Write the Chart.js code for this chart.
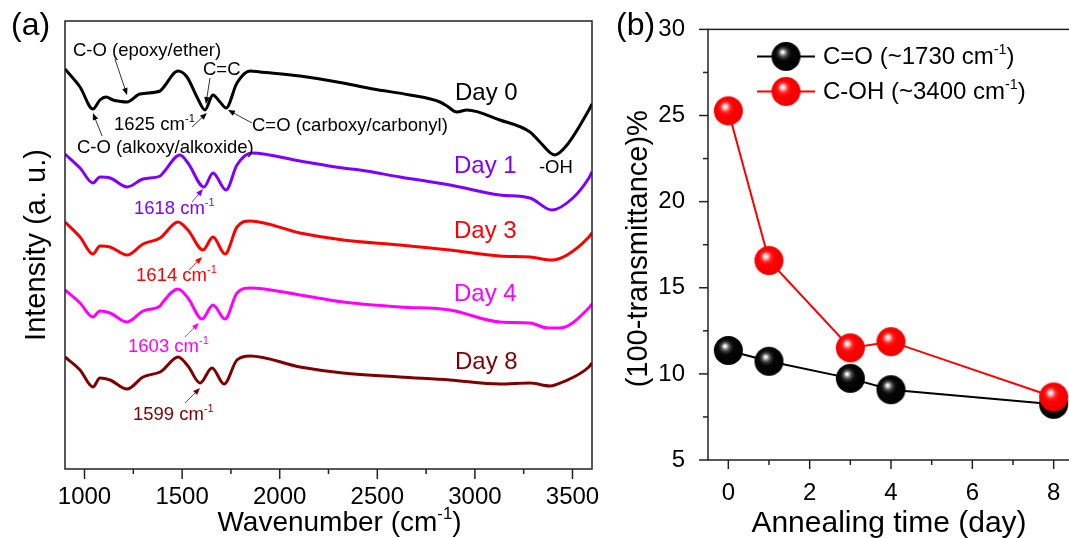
<!DOCTYPE html>
<html><head><meta charset="utf-8">
<script src="https://cdn.jsdelivr.net/npm/chart.js@4.4.1/dist/chart.umd.min.js"></script>
<style>
html,body{margin:0;padding:0;background:#fff;overflow:hidden;width:1069px;height:538px;position:relative}
#ca{position:absolute;left:0;top:0}
#cb{position:absolute;left:600px;top:0}
</style></head><body>
<canvas id="ca" width="620" height="538"></canvas>
<canvas id="cb" width="490" height="538"></canvas>
<script>
// ---------- Panel (a): FTIR spectra (wavenumber, intensity in a.u.) ----------
const wn0  = [900, 977, 1043, 1079, 1110, 1146, 1172, 1218, 1284, 1387, 1402, 1479, 1525, 1576, 1617, 1658, 1694, 1725, 1781, 1848, 1899, 2104, 2324, 2478, 2667, 2821, 2857, 2908, 2959, 3128, 3282, 3333, 3410, 3472, 3584, 3600];
const int0 = [400, 382, 360, 369, 372, 369, 368, 367, 375, 378, 381, 398, 392, 372, 359, 374, 367, 361, 386, 398, 397, 393, 386, 380, 374, 367, 363, 357, 359, 349, 337, 327, 314, 324, 359, 365];
const wn1  = [900, 977, 1043, 1079, 1131, 1218, 1300, 1387, 1402, 1489, 1530, 1612, 1658, 1725, 1781, 1858, 2104, 2324, 2411, 2616, 2872, 3128, 3282, 3395, 3502, 3584, 3600];
const int1 = [315, 301, 286, 292, 291, 282, 290, 293, 296, 314, 306, 282, 296, 279, 304, 316, 308, 301, 299, 292, 284, 274, 271, 259, 271, 291, 297];
const wn3  = [900, 977, 1043, 1079, 1131, 1218, 1300, 1387, 1479, 1530, 1607, 1658, 1720, 1781, 1848, 2104, 2324, 2616, 2872, 3128, 3282, 3395, 3472, 3584, 3600];
const int3 = [247, 232, 215, 223, 222, 214, 225, 231, 247, 239, 219, 232, 215, 242, 248, 236, 229, 224, 219, 213, 212, 209, 214, 232, 236];
const wn4  = [900, 977, 1043, 1079, 1131, 1218, 1300, 1387, 1402, 1479, 1530, 1602, 1658, 1720, 1781, 1848, 2104, 2324, 2616, 2872, 3128, 3282, 3374, 3436, 3584, 3600];
const int4 = [179, 166, 152, 158, 156, 147, 158, 163, 167, 180, 171, 150, 164, 150, 176, 181, 174, 167, 162, 159, 147, 146, 141, 141, 161, 165];
const wn8  = [900, 977, 1043, 1079, 1131, 1218, 1300, 1387, 1402, 1479, 1530, 1592, 1653, 1715, 1781, 1848, 2104, 2324, 2616, 2872, 3128, 3282, 3385, 3451, 3584, 3600];
const int8 = [112, 99, 82, 91, 89, 80, 92, 97, 99, 112, 103, 86, 101, 85, 109, 113, 102, 96, 92, 89, 85, 86, 83, 87, 102, 106];
const dayNames = ['Day 0', 'Day 1', 'Day 3', 'Day 4', 'Day 8'];
const wnTicks = [1000, 1500, 2000, 2500, 3000, 3500];
const wnMinor = [1250, 1750, 2250, 2750, 3250];

// ---------- Panel (b): (100-transmittance)% vs annealing time ----------
const days   = [0, 1, 3, 4, 8];
const coVals = [11.36, 10.73, 9.74, 9.08, 8.23];   // C=O (~1730 cm-1)
const ohVals = [25.27, 16.58, 11.51, 11.87, 8.66]; // C-OH (~3400 cm-1)
const dayTicks = [0, 2, 4, 6, 8];
const dayMinor = [1, 3, 5, 7];
const pctTicks = [5, 10, 15, 20, 25, 30];
const pctMinor = [7.5, 12.5, 17.5, 22.5, 27.5];

const FONT = '"Liberation Sans", Arial, Helvetica, sans-serif';
const COLORS = ['#000000', '#8000ff', '#ff0000', '#ff00ff', '#800000'];

function xy(w, v) { return w.map((x, i) => ({x: x, y: v[i]})); }

function richText(ctx, x, y, parts, size, color, align) {
  ctx.save();
  ctx.fillStyle = color; ctx.textAlign = 'left'; ctx.textBaseline = 'alphabetic';
  let w = 0;
  parts.forEach(p => { ctx.font = (p[1] ? size * 0.6 : size) + 'px ' + FONT; w += ctx.measureText(p[0]).width; });
  let cx = align === 'center' ? x - w / 2 : x;
  parts.forEach(p => {
    const s = p[1] ? size * 0.6 : size;
    ctx.font = s + 'px ' + FONT;
    ctx.fillText(p[0], cx, p[1] ? y - size * 0.42 : y);
    cx += ctx.measureText(p[0]).width;
  });
  ctx.restore();
}
function arrow(ctx, x1, y1, x2, y2, color) {
  ctx.save();
  ctx.strokeStyle = color; ctx.fillStyle = color; ctx.lineWidth = 0.8;
  const a = Math.atan2(y2 - y1, x2 - x1), L = 7, W = 2.8;
  ctx.beginPath(); ctx.moveTo(x1, y1); ctx.lineTo(x2 - L * 0.6 * Math.cos(a), y2 - L * 0.6 * Math.sin(a)); ctx.stroke();
  ctx.beginPath(); ctx.moveTo(x2, y2);
  ctx.lineTo(x2 - L * Math.cos(a) + W * Math.sin(a), y2 - L * Math.sin(a) - W * Math.cos(a));
  ctx.lineTo(x2 - L * Math.cos(a) - W * Math.sin(a), y2 - L * Math.sin(a) + W * Math.cos(a));
  ctx.closePath(); ctx.fill();
  ctx.restore();
}
function tickMarks(ctx, scale, values, len, horizontal, edge) {
  ctx.save(); ctx.strokeStyle = '#222'; ctx.lineWidth = 1.5;
  values.forEach(v => {
    const p = scale.getPixelForValue(v);
    ctx.beginPath();
    if (horizontal) { ctx.moveTo(p, edge); ctx.lineTo(p, edge + len); }
    else { ctx.moveTo(edge, p); ctx.lineTo(edge - len, p); }
    ctx.stroke();
  });
  ctx.restore();
}

// annotation anchors in data coordinates (wavenumber, a.u.)
const annText = [
  {t: [['C-O (epoxy/ether)', 0]], x: 941, y: 413, c: '#000'},
  {t: [['C=C', 0]], x: 1607, y: 394, c: '#000'},
  {t: [['1625 cm', 0], ['-1', 1]], x: 1151, y: 339, c: '#000'},
  {t: [['C=O (carboxy/carbonyl)', 0]], x: 1858, y: 338, c: '#000'},
  {t: [['C-O (alkoxy/alkoxide)', 0]], x: 961, y: 316, c: '#000'},
  {t: [['-OH', 0]], x: 3328, y: 296, c: '#000'},
  {t: [['1618 cm', 0], ['-1', 1]], x: 1253, y: 255, c: COLORS[1]},
  {t: [['1614 cm', 0], ['-1', 1]], x: 1264, y: 188, c: COLORS[2]},
  {t: [['1603 cm', 0], ['-1', 1]], x: 1223, y: 117, c: COLORS[3]},
  {t: [['1599 cm', 0], ['-1', 1]], x: 1248, y: 49, c: COLORS[4]}
];
const annArrows = [
  {a: [1156, 410], b: [1218, 374], c: '#000'},
  {a: [1643, 391], b: [1622, 365], c: '#000'},
  {a: [1551, 342], b: [1627, 356], c: '#000'},
  {a: [1858, 346], b: [1735, 359], c: '#000'},
  {a: [1090, 333], b: [1043, 356], c: '#000'},
  {a: [1551, 267], b: [1607, 280], c: COLORS[1]},
  {a: [1535, 199], b: [1602, 212], c: COLORS[2]},
  {a: [1515, 132], b: [1586, 146], c: COLORS[3]},
  {a: [1515, 66], b: [1592, 81], c: COLORS[4]}
];
const dayLabelPos = [[2898, 369], [2893, 296], [2893, 231], [2893, 168], [2898, 100]];

const panelA = {
  id: 'panelA',
  afterDraw(chart) {
    const ctx = chart.ctx, a = chart.chartArea, xs = chart.scales.x, ys = chart.scales.y;
    ctx.save();
    ctx.strokeStyle = '#222'; ctx.lineWidth = 1.5;
    ctx.strokeRect(a.left, a.top, a.right - a.left, a.bottom - a.top);
    ctx.restore();
    tickMarks(ctx, xs, wnTicks, 10, true, a.bottom);
    tickMarks(ctx, xs, wnMinor, 5, true, a.bottom);
    annArrows.forEach(r => arrow(ctx, xs.getPixelForValue(r.a[0]), ys.getPixelForValue(r.a[1]), xs.getPixelForValue(r.b[0]), ys.getPixelForValue(r.b[1]), r.c));
    annText.forEach(r => richText(ctx, xs.getPixelForValue(r.x), ys.getPixelForValue(r.y), r.t, 18.5, r.c, 'left'));
    dayNames.forEach((n, i) => richText(ctx, xs.getPixelForValue(dayLabelPos[i][0]), ys.getPixelForValue(dayLabelPos[i][1]), [[n, 0]], 24, COLORS[i], 'left'));
    richText(ctx, (a.left + a.right) / 2 + 11, 531, [['Wavenumber (cm', 0], ['-1', 1], [')', 0]], 28, '#000', 'center');
    ctx.save();
    ctx.translate(45, (a.top + a.bottom) / 2); ctx.rotate(-Math.PI / 2);
    richText(ctx, 0, 0, [['Intensity (a. u.)', 0]], 29, '#000', 'center');
    ctx.restore();
    richText(ctx, 11, 35, [['(a)', 0]], 32, '#000', 'left');
  }
};

new Chart(document.getElementById('ca'), {
  type: 'line',
  data: {
    datasets: [
      {label: dayNames[0], data: xy(wn0, int0), borderColor: COLORS[0]},
      {label: dayNames[1], data: xy(wn1, int1), borderColor: COLORS[1]},
      {label: dayNames[2], data: xy(wn3, int3), borderColor: COLORS[2]},
      {label: dayNames[3], data: xy(wn4, int4), borderColor: COLORS[3]},
      {label: dayNames[4], data: xy(wn8, int8), borderColor: COLORS[4]}
    ].map(d => Object.assign(d, {borderWidth: 3, pointRadius: 0, fill: false, cubicInterpolationMode: 'monotone'}))
  },
  options: {
    responsive: false, animation: false,
    layout: {padding: {left: 65, right: 28, top: 21, bottom: 0}, autoPadding: false},
    plugins: {legend: {display: false}, tooltip: {enabled: false}},
    scales: {
      x: {
        type: 'linear', min: 900, max: 3600,
        afterBuildTicks: s => { s.ticks = wnTicks.map(v => ({value: v})); },
        afterFit: s => { s.height = 69; },
        grid: {display: false}, border: {display: false},
        ticks: {color: '#000', font: {family: FONT, size: 24}, padding: 6, maxRotation: 0, autoSkip: false, callback: v => String(v)}
      },
      y: {type: 'linear', min: 0, max: 448, display: false}
    }
  },
  plugins: [panelA]
});

// ---------- Panel (b) ----------
function sphere(r, stops) {
  const c = document.createElement('canvas'); const s = 2 * r + 2;
  c.width = s; c.height = s;
  const g = c.getContext('2d'); const cx = s / 2, cy = s / 2;
  const grd = g.createRadialGradient(cx - 3.5, cy - 4.5, 0, cx - 1.5, cy - 2, r + 1.5);
  stops.forEach(st => grd.addColorStop(st[0], st[1]));
  g.fillStyle = grd; g.beginPath(); g.arc(cx, cy, r, 0, Math.PI * 2); g.fill();
  return c;
}
const blackBall = sphere(14.5, [[0, '#ffffff'], [0.07, '#f4f4f4'], [0.16, '#9a9a9a'], [0.3, '#3a3a3a'], [0.48, '#070707'], [1, '#000000']]);
const redBall = sphere(14.5, [[0, '#ffffff'], [0.08, '#ffecec'], [0.18, '#ff9c9c'], [0.32, '#ff2626'], [0.5, '#ff0000'], [1, '#f00000']]);

const panelB = {
  id: 'panelB',
  afterDraw(chart) {
    const ctx = chart.ctx, a = chart.chartArea, xs = chart.scales.x, ys = chart.scales.y;
    ctx.save();
    ctx.strokeStyle = '#222'; ctx.lineWidth = 1.5;
    ctx.strokeRect(a.left, a.top, a.right - a.left, a.bottom - a.top);
    ctx.restore();
    tickMarks(ctx, xs, dayTicks, 9, true, a.bottom);
    tickMarks(ctx, xs, dayMinor, 5, true, a.bottom);
    tickMarks(ctx, ys, pctTicks, 9, false, a.left);
    tickMarks(ctx, ys, pctMinor, 5, false, a.left);
    // legend
    const items = [[blackBall, '#000', 'C=O (~1730 cm'], [redBall, '#ff0000', 'C-OH (~3400 cm']];
    items.forEach((it, i) => {
      const ly = a.top + 27 + i * 35, lx = a.left + 49;
      ctx.save(); ctx.strokeStyle = it[1]; ctx.lineWidth = 2;
      ctx.beginPath(); ctx.moveTo(lx, ly); ctx.lineTo(lx + 58, ly); ctx.stroke(); ctx.restore();
      ctx.drawImage(it[0], lx + 29 - it[0].width / 2, ly - it[0].height / 2);
      richText(ctx, lx + 66, ly + 8, [[it[2], 0], ['-1', 1], [')', 0]], 24, '#000', 'left');
    });
    richText(ctx, (a.left + a.right) / 2 - 2, 532, [['Annealing time (day)', 0]], 30, '#000', 'center');
    ctx.save();
    ctx.translate(47, (a.top + a.bottom) / 2 + 4); ctx.rotate(-Math.PI / 2);
    richText(ctx, 0, 0, [['(100-transmittance)%', 0]], 29, '#000', 'center');
    ctx.restore();
    richText(ctx, 16, 35, [['(b)', 0]], 32, '#000', 'left');
  }
};

new Chart(document.getElementById('cb'), {
  type: 'line',
  data: {
    datasets: [
      {label: 'C=O (~1730 cm-1)', data: xy(days, coVals), borderColor: '#000', pointStyle: blackBall, order: 1},
      {label: 'C-OH (~3400 cm-1)', data: xy(days, ohVals), borderColor: '#ff0000', pointStyle: redBall, order: 0}
    ].map(d => Object.assign(d, {borderWidth: 2, pointRadius: 14, fill: false, tension: 0}))
  },
  options: {
    responsive: false, animation: false,
    layout: {padding: {left: 0, right: 16, top: 21, bottom: 0}, autoPadding: false},
    plugins: {legend: {display: false}, tooltip: {enabled: false}},
    scales: {
      x: {
        type: 'linear', min: -0.5, max: 8.5,
        afterBuildTicks: s => { s.ticks = dayTicks.map(v => ({value: v})); },
        afterFit: s => { s.height = 78; },
        grid: {display: false}, border: {display: false},
        ticks: {color: '#000', font: {family: FONT, size: 24}, padding: 11, maxRotation: 0, autoSkip: false, callback: v => String(v)}
      },
      y: {
        type: 'linear', min: 5, max: 30,
        afterBuildTicks: s => { s.ticks = pctTicks.map(v => ({value: v})); },
        afterFit: s => { s.width = 108; },
        grid: {display: false}, border: {display: false},
        ticks: {color: '#000', font: {family: FONT, size: 24}, padding: 15, callback: v => String(v)}
      }
    }
  },
  plugins: [panelB]
});
</script>
</body></html>
